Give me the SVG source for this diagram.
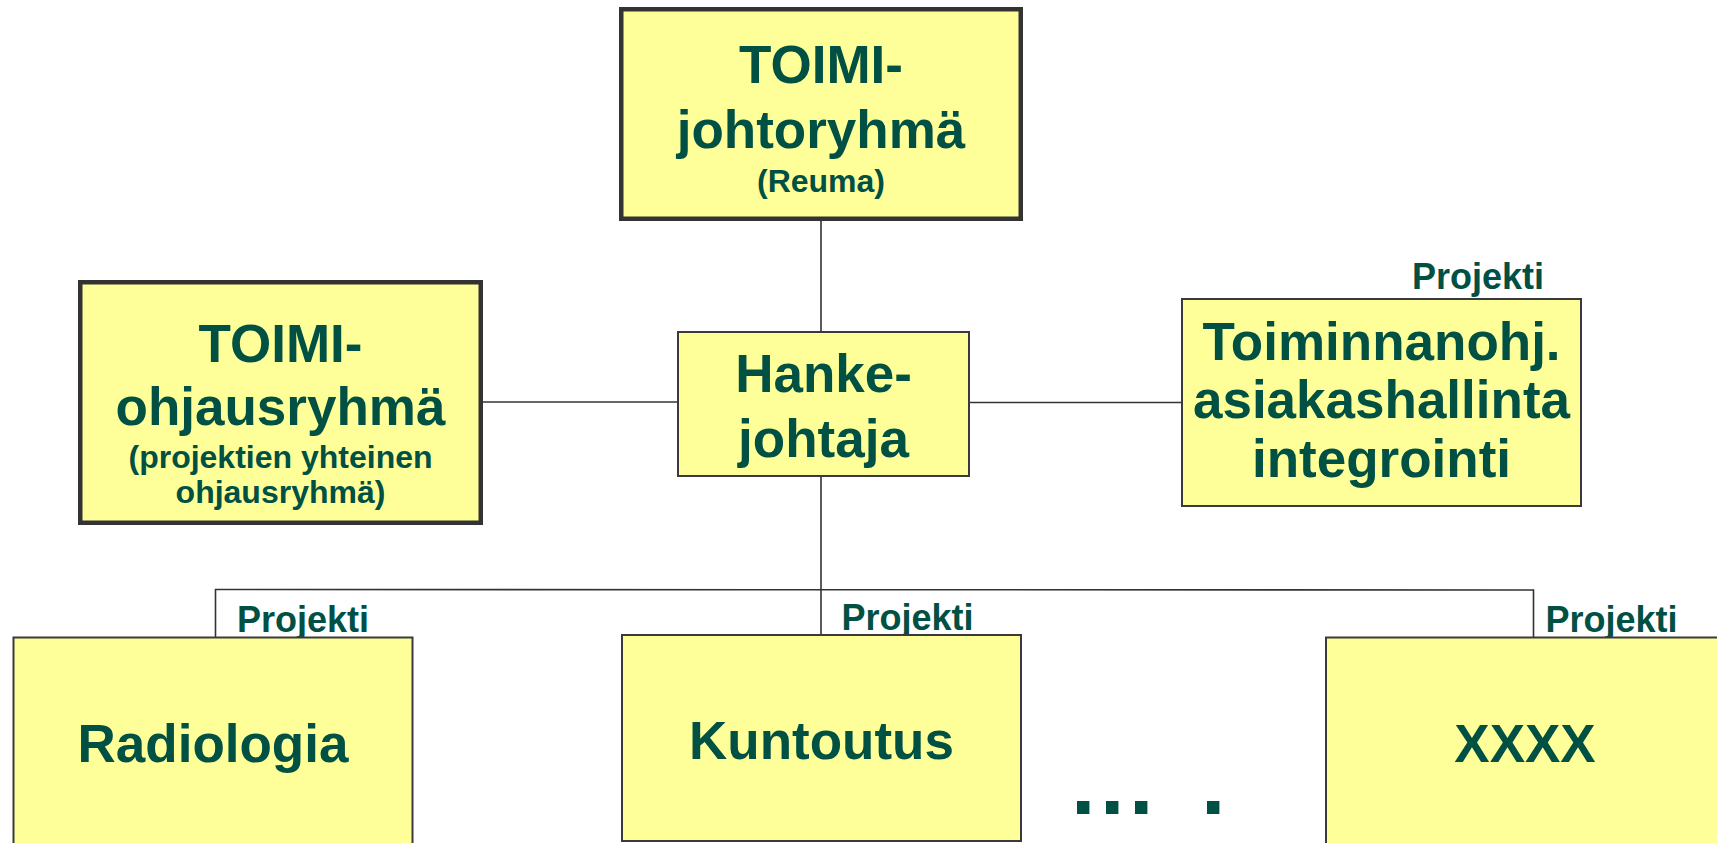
<svg xmlns="http://www.w3.org/2000/svg" width="1717" height="843" viewBox="0 0 1717 843">
<style>
.box{fill:#FFFF99;stroke:#3a3a3a;stroke-width:2}
.thick{stroke:#333;stroke-width:4.5}
.t{font-family:"Liberation Sans",Arial,sans-serif;font-weight:bold;fill:#005044;text-anchor:middle}
.big{font-size:53px}
.small{font-size:32px}
.lab{font-family:"Liberation Sans",Arial,sans-serif;font-weight:bold;fill:#005044;font-size:36px}
.c{stroke:#333;stroke-width:1.6;fill:none}
</style>
<rect width="1717" height="843" fill="#fff"/>
<g id="connectors">
<line class="c" x1="821" y1="221" x2="821" y2="331"/>
<line class="c" x1="483" y1="402" x2="677" y2="402"/>
<line class="c" x1="970" y1="402.5" x2="1181" y2="402.5"/>
<line class="c" x1="821" y1="477" x2="821" y2="634"/>
<polyline class="c" points="215.5,637 215.5,589.5 1533.5,590 1533.5,637"/>
</g>
<g id="johtoryhma">
<rect class="box thick" x="621.25" y="9.25" width="399.5" height="209.5"/>
<text class="t big" x="821" y="83">TOIMI-</text>
<text class="t big" x="821" y="148">johtoryhmä</text>
<text class="t small" x="821" y="192">(Reuma)</text>
</g>
<g id="ohjausryhma">
<rect class="box thick" x="80.25" y="282.25" width="400.5" height="240.5"/>
<text class="t big" x="280.5" y="362">TOIMI-</text>
<text class="t big" x="280.5" y="425">ohjausryhmä</text>
<text class="t small" x="280.5" y="468">(projektien yhteinen</text>
<text class="t small" x="280.5" y="503">ohjausryhmä)</text>
</g>
<g id="hankejohtaja">
<rect class="box" x="678" y="332" width="291" height="144"/>
<text class="t big" x="823.5" y="392">Hanke-</text>
<text class="t big" x="823.5" y="456.5">johtaja</text>
</g>
<g id="toiminnanohj">
<text class="lab" x="1412" y="289">Projekti</text>
<rect class="box" x="1182" y="299" width="399" height="207"/>
<text class="t big" x="1381.5" y="360">Toiminnanohj.</text>
<text class="t big" x="1381.5" y="418">asiakashallinta</text>
<text class="t big" x="1381.5" y="477">integrointi</text>
</g>
<g id="radiologia">
<text class="lab" x="237" y="631.5">Projekti</text>
<rect class="box" x="13.5" y="637.5" width="399" height="250"/>
<text class="t big" x="213" y="761.5">Radiologia</text>
</g>
<g id="kuntoutus">
<text class="lab" x="841.5" y="630">Projekti</text>
<rect class="box" x="622" y="635" width="399" height="206"/>
<text class="t big" x="821.5" y="759">Kuntoutus</text>
</g>
<g id="xxxx">
<text class="lab" x="1545.5" y="631.5">Projekti</text>
<rect class="box" x="1326" y="637.5" width="400" height="250"/>
<text class="t big" x="1525" y="761.5">XXXX</text>
</g>
<g id="dots">
<text class="lab" style="font-size:88px" x="1071 1100 1129 1165 1201" y="813.5">... .</text>
</g>
</svg>
